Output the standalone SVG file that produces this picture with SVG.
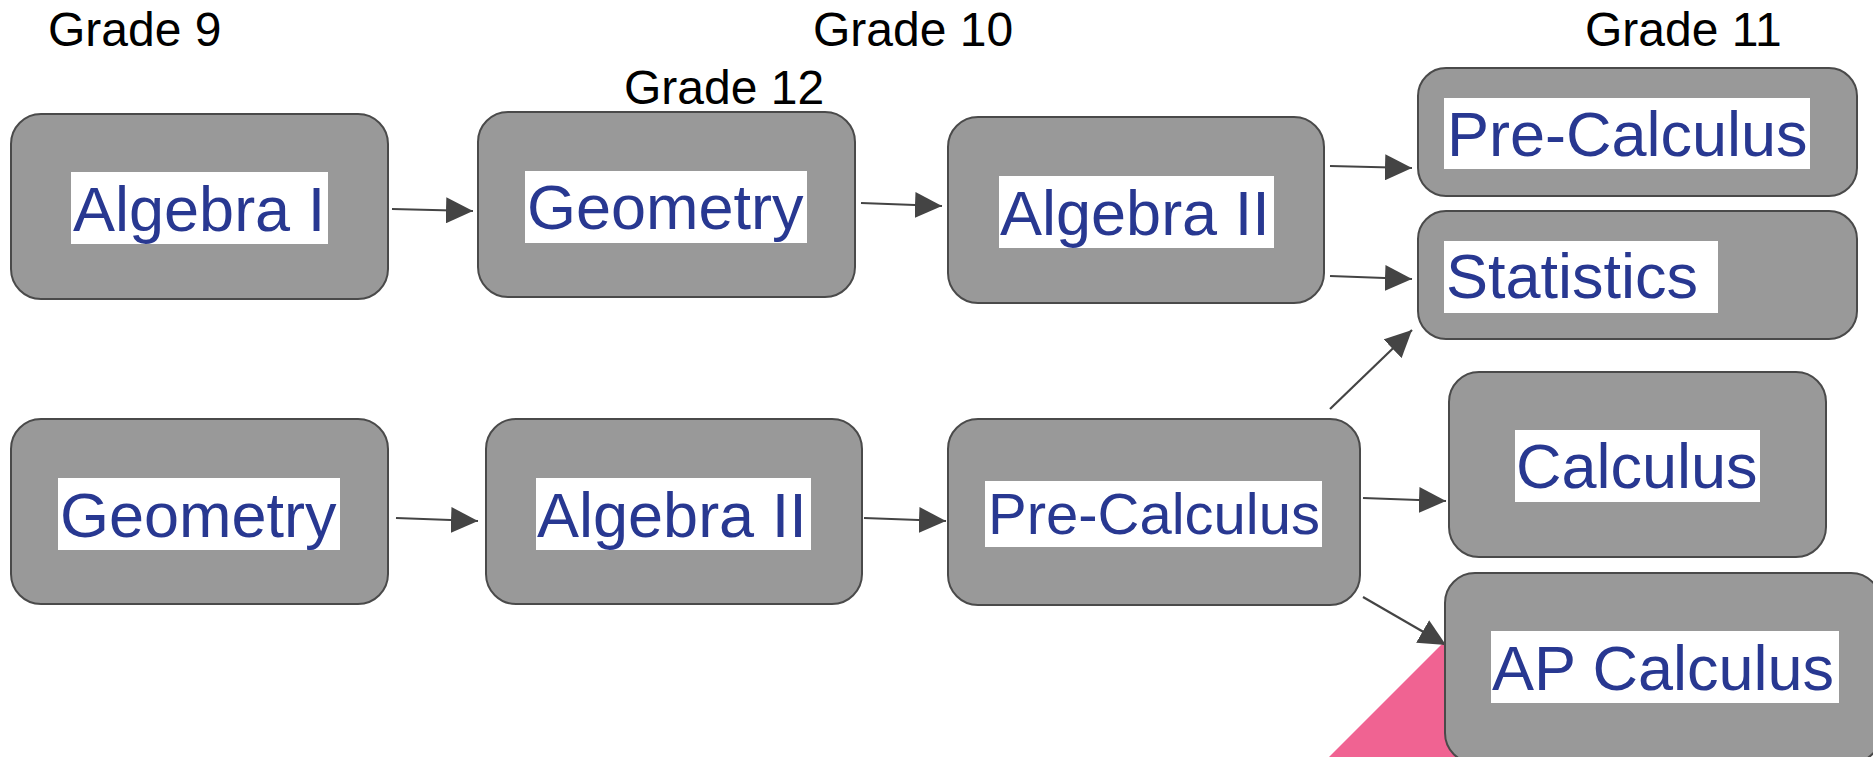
<svg xmlns="http://www.w3.org/2000/svg" width="1873" height="757" viewBox="0 0 1873 757">
<style>
.box{fill:#999999;stroke:#4a4a4a;stroke-width:2}
.lbg{fill:#ffffff}
.lbl{font-family:"Liberation Sans",Arial,sans-serif;font-size:63px;fill:#283891}
.grade{font-family:"Liberation Sans",Arial,sans-serif;font-size:48px;fill:#000000}
.edge{stroke:#444444;stroke-width:2.2;fill:none;marker-end:url(#ah)}
</style>
<defs>
<marker id="ah" viewBox="0 0 27 26" refX="27" refY="13" markerWidth="27" markerHeight="26" markerUnits="userSpaceOnUse" orient="auto">
<path d="M0,0 L27,13 L0,26 Z" fill="#444444"/>
</marker>
</defs>
<rect width="1873" height="757" fill="#ffffff"/>
<polygon points="1329,757 1470,616 1470,757" fill="#f06392"/>
<g id="grades">
<text class="grade" x="48" y="46">Grade 9</text>
<text class="grade" x="813" y="46">Grade 10</text>
<text class="grade" x="1585" y="46">Grade 11</text>
<text class="grade" x="624" y="104">Grade 12</text>
</g>
<g id="connectors">
<line class="edge" x1="392" y1="209" x2="473" y2="211"/>
<line class="edge" x1="861" y1="203" x2="942" y2="206"/>
<line class="edge" x1="1330" y1="166" x2="1412" y2="168"/>
<line class="edge" x1="1330" y1="276" x2="1412" y2="279"/>
<line class="edge" x1="1330" y1="409" x2="1412" y2="330"/>
<line class="edge" x1="396" y1="518" x2="478" y2="521"/>
<line class="edge" x1="864" y1="518" x2="946" y2="521"/>
<line class="edge" x1="1363" y1="498" x2="1446" y2="501"/>
<line class="edge" x1="1363" y1="597" x2="1446" y2="645"/>
</g>
<g id="n-algebra1">
<rect class="box" x="11" y="114" width="377" height="185" rx="30"/>
<rect class="lbg" x="71" y="172" width="257" height="72"/>
<text class="lbl" x="73" y="231">Algebra I</text>
</g>
<g id="n-geometry-top">
<rect class="box" x="478" y="112" width="377" height="185" rx="30"/>
<rect class="lbg" x="525" y="171" width="282" height="72"/>
<text class="lbl" x="527" y="229">Geometry</text>
</g>
<g id="n-algebra2-top">
<rect class="box" x="948" y="117" width="376" height="186" rx="30"/>
<rect class="lbg" x="999" y="176" width="275" height="72"/>
<text class="lbl" x="1000" y="235">Algebra II</text>
</g>
<g id="n-precalc-top">
<rect class="box" x="1418" y="68" width="439" height="128" rx="28"/>
<rect class="lbg" x="1444" y="98" width="366" height="71"/>
<text class="lbl" x="1447" y="156">Pre-Calculus</text>
</g>
<g id="n-statistics">
<rect class="box" x="1418" y="211" width="439" height="128" rx="28"/>
<rect class="lbg" x="1444" y="241" width="274" height="72"/>
<text class="lbl" x="1446" y="298">Statistics</text>
</g>
<g id="n-geometry-bottom">
<rect class="box" x="11" y="419" width="377" height="185" rx="30"/>
<rect class="lbg" x="58" y="478" width="282" height="72"/>
<text class="lbl" x="60" y="537">Geometry</text>
</g>
<g id="n-algebra2-bottom">
<rect class="box" x="486" y="419" width="376" height="185" rx="30"/>
<rect class="lbg" x="536" y="478" width="275" height="72"/>
<text class="lbl" x="537" y="537">Algebra II</text>
</g>
<g id="n-precalc-bottom">
<rect class="box" x="948" y="419" width="412" height="186" rx="30"/>
<rect class="lbg" x="985" y="481" width="337" height="66"/>
<text class="lbl" x="988" y="534" style="font-size:58px">Pre-Calculus</text>
</g>
<g id="n-calculus">
<rect class="box" x="1449" y="372" width="377" height="185" rx="30"/>
<rect class="lbg" x="1515" y="430" width="245" height="72"/>
<text class="lbl" x="1516" y="488">Calculus</text>
</g>
<g id="n-apcalculus">
<rect class="box" x="1445" y="573" width="436" height="190" rx="30"/>
<rect class="lbg" x="1491" y="631" width="348" height="72"/>
<text class="lbl" x="1492" y="690">AP Calculus</text>
</g>
</svg>
